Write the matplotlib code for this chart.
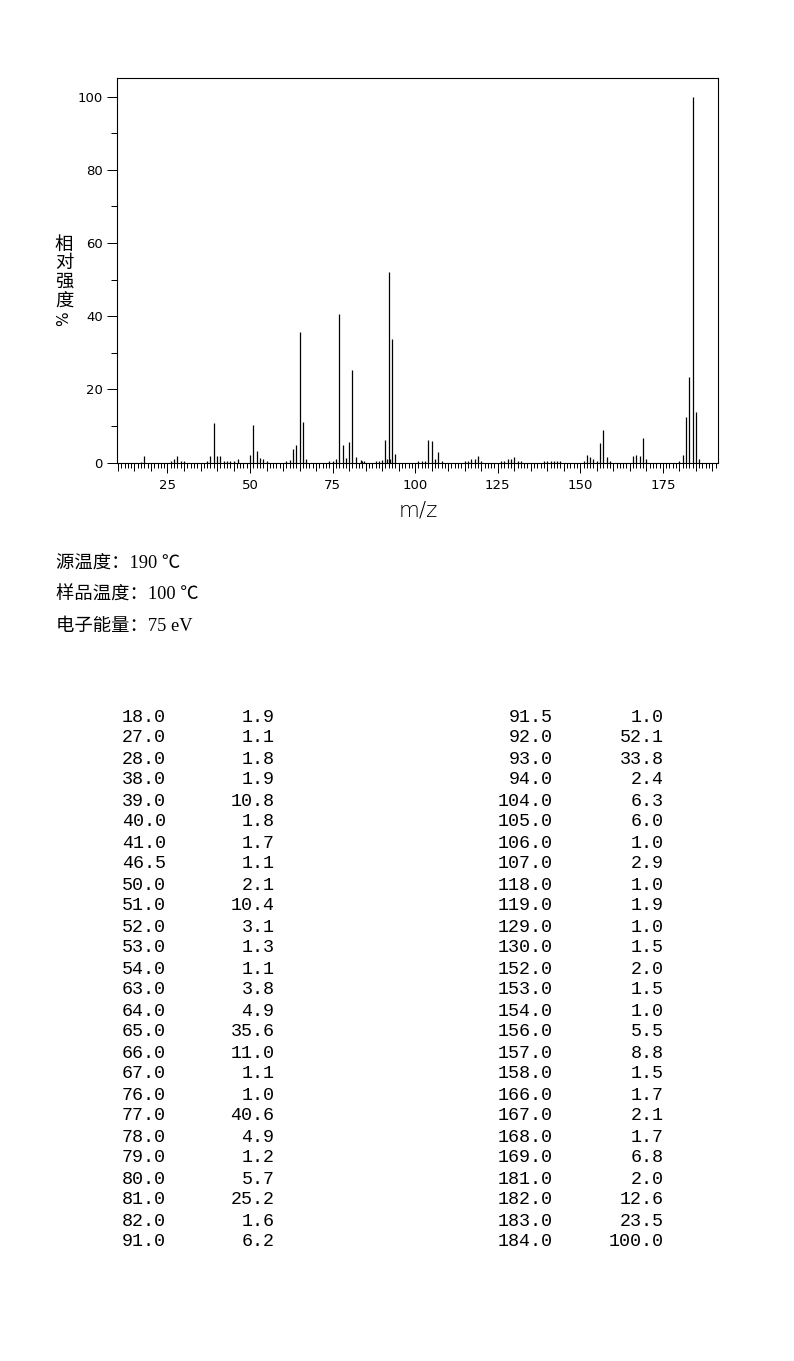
import matplotlib
matplotlib.use("Agg")
import matplotlib.pyplot as plt
from matplotlib.ticker import MultipleLocator, NullFormatter, FuncFormatter

# ---------------- data ----------------
mz = [17, 18, 26, 27, 28, 29, 30, 37, 38, 39, 40, 41, 42, 43, 44, 45, 46.5,
      50, 51, 52, 53, 54, 55, 61, 62, 63, 64, 65, 66, 67, 74, 75, 76, 77, 78,
      79, 80, 81, 82, 83.5, 84, 84.5, 88, 89, 90, 91, 91.5, 92, 92.5, 93, 94,
      101, 102, 103, 104, 105, 106, 107, 108, 115, 116, 117, 118, 119, 120,
      126, 127, 128, 129, 130, 131, 132, 139, 140, 141, 142, 143, 144,
      151, 152, 153, 154, 155, 156, 157, 158, 159, 166, 167, 168, 169, 170,
      180, 181, 182, 183, 184, 185, 186]
intensity = [0.3, 1.9, 0.4, 1.1, 1.8, 0.4, 0.4, 0.6, 1.9, 10.8, 1.8, 1.7, 0.4,
             0.4, 0.4, 0.4, 1.1,
             2.1, 10.4, 3.1, 1.3, 1.1, 0.4, 0.4, 0.8, 3.8, 4.9, 35.6, 11.0,
             1.1, 0.6, 0.6, 1.0, 40.6, 4.9,
             1.2, 5.7, 25.2, 1.6, 0.8, 0.4, 0.4, 0.4, 0.4, 0.8, 6.2, 1.0,
             52.1, 0.9, 33.8, 2.4,
             0.4, 0.4, 0.4, 6.3, 6.0, 1.0, 2.9, 0.4, 0.6, 0.4, 0.9, 1.0, 1.9,
             0.4,
             0.4, 0.6, 0.9, 1.0, 1.5, 0.4, 0.4, 0.6, 0.4, 0.4, 0.4, 0.6, 0.4,
             0.6, 2.0, 1.5, 1.0, 0.6, 5.5, 8.8, 1.5, 0.4, 1.7, 2.1, 1.7, 6.8,
             0.9,
             0.4, 2.0, 12.6, 23.5, 100.0, 13.9, 0.9]

info_labels = ["源温度：", "样品温度：", "电子能量："]
info_values = ["190 ℃", "100 ℃", "75 eV"]
ylabel_chars = ["相", "对", "强", "度"]
xlabel = "m/z"

# table: peaks >= 1.0 %, first 52 listed in two columns
table = [(m, v) for m, v in zip(mz, intensity) if v >= 1.0][:52]
left_rows = table[:26]
right_rows = table[26:]

# ---------------- figure ----------------
W, H = 794, 1361
fig = plt.figure(figsize=(W / 100, H / 100), dpi=100)
fig.patch.set_facecolor("white")

def fx(px):
    return px / W

def fy(py):
    return 1 - py / H

L, R, T, B = 117.3, 718.3, 78.3, 462.7
ax = fig.add_axes([fx(L), fy(B), (R - L) / W, (B - T) / H])
ax.vlines(mz, 0, intensity, colors="black", linewidth=0.9)
ax.set_xlim(9.8, 191.8)
ax.set_ylim(0, 105)

for s in ax.spines.values():
    s.set_linewidth(0.8)
    s.set_color("black")

ax.xaxis.set_major_locator(MultipleLocator(25))
ax.xaxis.set_minor_locator(MultipleLocator(1))
ax.xaxis.set_major_formatter(FuncFormatter(lambda v, p: f"{v:.0f}"))
ax.yaxis.set_major_locator(MultipleLocator(20))
ax.yaxis.set_minor_locator(MultipleLocator(10))
ax.yaxis.set_major_formatter(FuncFormatter(lambda v, p: f"{v:.0f}"))
ax.tick_params(axis="x", which="major", direction="out", length=7.4, width=0.72,
               pad=4.5, labelsize=9.5, top=False)
ax.tick_params(axis="x", which="minor", direction="out", length=3.8, width=0.72,
               top=False)
ax.tick_params(axis="y", which="major", direction="out", length=7.2, width=0.72,
               pad=3.2, labelsize=9.5, right=False)
ax.tick_params(axis="y", which="minor", direction="out", length=4.3, width=0.72,
               right=False)
for lab in ax.get_xticklabels() + ax.get_yticklabels():
    lab.set_fontfamily("DejaVu Sans")

sec = ax.secondary_xaxis("bottom")
sec.xaxis.set_major_locator(MultipleLocator(5))
sec.xaxis.set_major_formatter(NullFormatter())
sec.xaxis.set_minor_locator(MultipleLocator(1000))
sec.tick_params(axis="x", which="major", direction="out", length=5.5, width=0.72)
sec.spines["bottom"].set_visible(False)

# axis labels
fig.text(fx(418), fy(511), xlabel, ha="center", va="center",
         fontsize=15.5, family="DejaVu Sans", fontweight="light")
for i, ch in enumerate(ylabel_chars):
    fig.text(fx(64), fy(244.7 + 18.5 * i), ch, ha="center", va="center",
             fontsize=13.2, family=["Noto Sans CJK SC", "DejaVu Sans"])
fig.text(fx(64), fy(318.5), "%", ha="center", va="center", rotation=90,
         fontsize=11, family="DejaVu Sans")

# info lines
for i, (lab, val) in enumerate(zip(info_labels, info_values)):
    fig.text(fx(56), fy(567.5 + 31.7 * i), lab + val, ha="left", va="baseline",
             fontsize=13.2, family=["Liberation Serif", "Noto Sans CJK SC", "DejaVu Sans"])

# peak table
mono = dict(fontsize=13.2, family="Liberation Mono", va="center", ha="right")
for i, (m, v) in enumerate(left_rows):
    y = fy(717 + 21.0 * i)
    fig.text(fx(166), y, f"{m:.1f}", **mono)
    fig.text(fx(274.5), y, f"{v:.1f}", **mono)
for i, (m, v) in enumerate(right_rows):
    y = fy(717 + 21.0 * i)
    fig.text(fx(553), y, f"{m:.1f}", **mono)
    fig.text(fx(664), y, f"{v:.1f}", **mono)

fig.savefig("out.png", dpi=100, facecolor="white")
